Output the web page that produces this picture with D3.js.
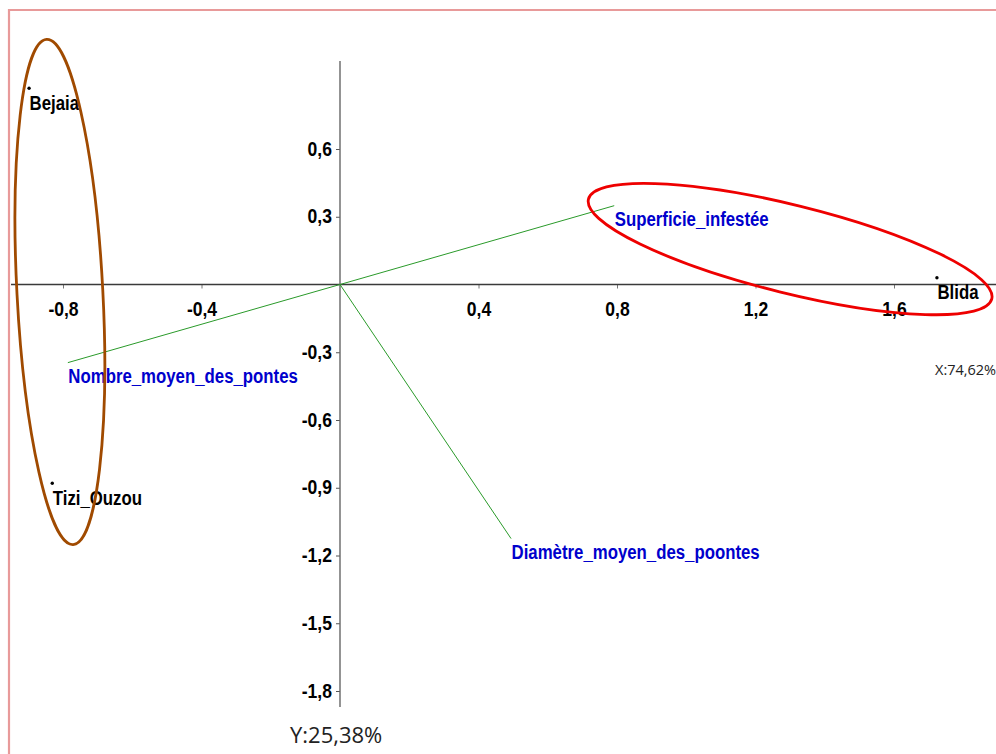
<!DOCTYPE html>
<html>
<head>
<meta charset="utf-8">
<script src="https://cdn.jsdelivr.net/npm/d3@7"></script>
<style>
  body { margin: 0; background: #ffffff; }
</style>
</head>
<body>
<div id="chart"></div>
<script>
const observationNames = ["Bejaia", "Blida", "Tizi_Ouzou"];
const observationX = [-0.898, 1.724, -0.831];
const observationY = [0.869, 0.030, -0.880];

const variableNames = ["Superficie_infestée", "Nombre_moyen_des_pontes", "Diamètre_moyen_des_poontes"];
const variableX = [0.792, -0.786, 0.494];
const variableY = [0.349, -0.346, -1.125];

const xTickValues = [-0.8, -0.4, 0.4, 0.8, 1.2, 1.6];
const yTickValues = [0.6, 0.3, -0.3, -0.6, -0.9, -1.2, -1.5, -1.8];

const xAxisTitle = "X:74,62%";
const yAxisTitle = "Y:25,38%";

// Hand-drawn group highlights (centre in data units, radii in data units, tilt in degrees)
const groupCentersX = [-0.809, 1.300];
const groupCentersY = [-0.033, 0.157];
const groupRadiiX = [0.124, 0.600];
const groupRadiiY = [1.120, 0.195];
const groupTilts = [-3, 13.9];
const groupColors = ["#a04a00", "#ee0000"];

function makeChart(containerSelector) {
    const width = 996;
    const height = 754;

    const style = {
        tickFont: "'Liberation Sans', Arial, sans-serif",
        labelFont: "'Liberation Sans', Arial, sans-serif",
        titleFont: "'Open Sans', 'Noto Sans', sans-serif",
        vectorColor: "#2a9a2a",
        variableTextColor: "#0000cc",
        pointTextColor: "#000000",
        frameColor: "#e89a9a",
        labelNarrow: 0.8,  // the original uses a condensed bold face
        tickNarrow: 0.9
    };

    const commaLocale = d3.formatLocale({ decimal: ",", thousands: " ", grouping: [3], currency: ["", ""], minus: "-" });
    const fmt = commaLocale.format(".1f");

    const svg = d3.select(containerSelector)
        .append("svg")
        .attr("width", width)
        .attr("height", height)
        .attr("xmlns", "http://www.w3.org/2000/svg");

    svg.append("rect").attr("width", width).attr("height", height).attr("fill", "#ffffff");

    // frame (only top and left edges fall inside the picture)
    svg.append("path")
        .attr("d", `M9,${height + 5} L9,10 L${width + 5},10`)
        .attr("fill", "none")
        .attr("stroke", style.frameColor)
        .attr("stroke-width", 2.2);

    // scales
    const xScale = d3.scaleLinear().domain([-0.8, 1.6]).range([63, 894]);
    const yScale = d3.scaleLinear().domain([0.6, -1.8]).range([149, 691]);
    const x0 = xScale(0);
    const y0 = yScale(0);

    // x axis
    const xAxisG = svg.append("g")
        .attr("transform", `translate(0,${y0})`)
        .call(d3.axisBottom(xScale).tickValues(xTickValues).tickFormat(fmt).tickSize(4).tickPadding(14));
    xAxisG.select(".domain").remove();
    xAxisG.selectAll(".tick line").attr("stroke", "#777");
    xAxisG.selectAll("text")
        .attr("fill", "#000")
        .attr("transform", `scale(${style.tickNarrow},1)`)
        .style("font-family", style.tickFont)
        .style("font-size", "19.5px")
        .style("font-weight", "bold");
    svg.append("line")
        .attr("x1", 11).attr("x2", width)
        .attr("y1", y0).attr("y2", y0)
        .attr("stroke", "#3a3a3a").attr("stroke-width", 1.4);

    // y axis
    const yAxisG = svg.append("g")
        .attr("transform", `translate(${x0},0)`)
        .call(d3.axisLeft(yScale).tickValues(yTickValues).tickFormat(fmt).tickSize(4).tickPadding(5));
    yAxisG.select(".domain").remove();
    yAxisG.selectAll(".tick line").attr("stroke", "#555");
    yAxisG.selectAll("text")
        .attr("fill", "#000")
        .attr("transform", `scale(${style.tickNarrow},1)`)
        .style("font-family", style.tickFont)
        .style("font-size", "19.5px")
        .style("font-weight", "bold");
    svg.append("line")
        .attr("x1", x0).attr("x2", x0)
        .attr("y1", 61).attr("y2", 707)
        .attr("stroke", "#666").attr("stroke-width", 1.4);

    // variable vectors
    const vectors = variableNames.map((name, i) => ({ name: name, x: variableX[i], y: variableY[i] }));
    svg.selectAll(".vector")
        .data(vectors)
        .enter()
        .append("line")
        .attr("class", "vector")
        .attr("x1", x0).attr("y1", y0)
        .attr("x2", d => xScale(d.x))
        .attr("y2", d => yScale(d.y))
        .attr("stroke", style.vectorColor)
        .attr("stroke-width", 1);

    svg.selectAll(".vector-label")
        .data(vectors)
        .enter()
        .append("g")
        .attr("class", "vector-label")
        .attr("transform", d => `translate(${xScale(d.x) + 0.5},${yScale(d.y) + 20.5}) scale(${style.labelNarrow},1)`)
        .append("text")
        .attr("fill", style.variableTextColor)
        .style("font-family", style.labelFont)
        .style("font-size", "21px")
        .style("font-weight", "bold")
        .text(d => d.name);

    // observations
    const points = observationNames.map((name, i) => ({ name: name, x: observationX[i], y: observationY[i] }));
    svg.selectAll(".point")
        .data(points)
        .enter()
        .append("circle")
        .attr("class", "point")
        .attr("cx", d => xScale(d.x))
        .attr("cy", d => yScale(d.y))
        .attr("r", 1.7)
        .attr("fill", "#000");

    svg.selectAll(".point-label")
        .data(points)
        .enter()
        .append("g")
        .attr("class", "point-label")
        .attr("transform", d => `translate(${xScale(d.x) + 0.5},${yScale(d.y) + 21.5}) scale(${style.labelNarrow},1)`)
        .append("text")
        .attr("fill", style.pointTextColor)
        .style("font-family", style.labelFont)
        .style("font-size", "21px")
        .style("font-weight", "bold")
        .text(d => d.name);

    // group highlights
    const kx = xScale(1) - xScale(0);
    const ky = yScale(0) - yScale(1);
    groupCentersX.forEach((cx, i) => {
        svg.append("ellipse")
            .attr("transform", `translate(${xScale(cx)},${yScale(groupCentersY[i])}) rotate(${groupTilts[i]})`)
            .attr("rx", groupRadiiX[i] * kx)
            .attr("ry", groupRadiiY[i] * ky)
            .attr("fill", "none")
            .attr("stroke", groupColors[i])
            .attr("stroke-width", 2.8);
    });

    // axis titles
    svg.append("text")
        .attr("x", 935).attr("y", 375)
        .attr("fill", "#222")
        .style("font-family", style.titleFont)
        .style("font-size", "14.5px")
        .text(xAxisTitle);

    svg.append("text")
        .attr("x", 290).attr("y", 743)
        .attr("fill", "#222")
        .style("font-family", style.titleFont)
        .style("font-size", "22px")
        .text(yAxisTitle);

    return svg.node();
}

makeChart("#chart");
</script>
</body>
</html>
